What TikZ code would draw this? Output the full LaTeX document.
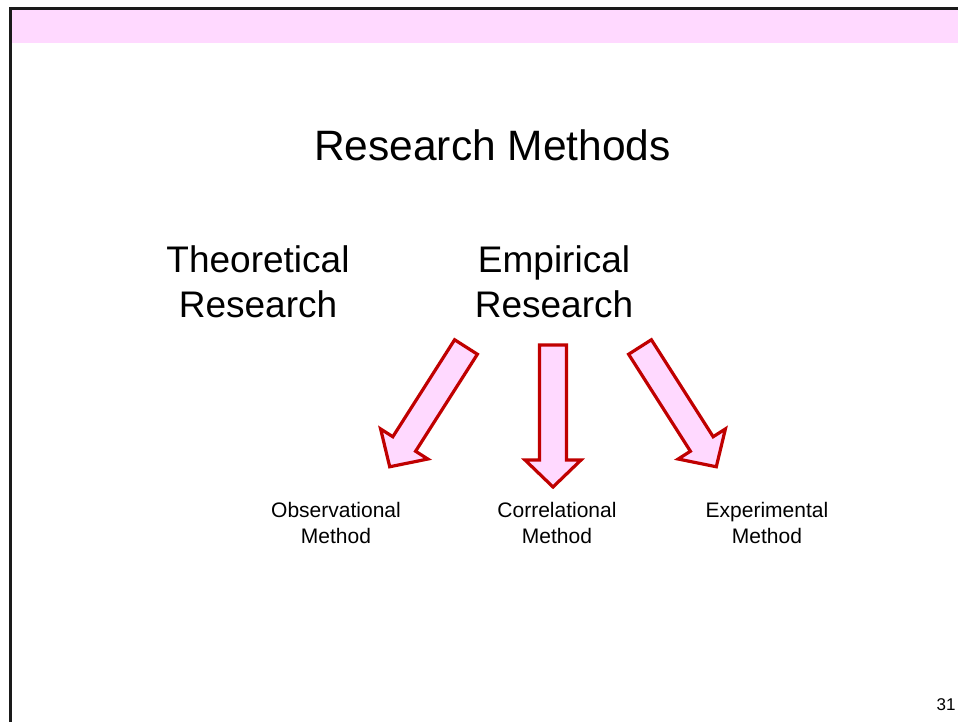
\documentclass[tikz,border=0pt]{standalone}
\usepackage{fontspec}
\setmainfont{Liberation Sans}
\definecolor{bandpink}{HTML}{FFD9FF}
\definecolor{arrowred}{HTML}{C00000}
\definecolor{frameblack}{HTML}{1A1A1A}
\tikzset{
  blockarrow/.style={draw=arrowred, fill=bandpink, line width=3.2pt, line join=miter},
  titletext/.style={inner sep=0pt, anchor=base, font=\fontsize{42.5}{50}\selectfont},
  bigtext/.style={inner sep=0pt, anchor=base, font=\fontsize{37}{45}\selectfont},
  smalltext/.style={inner sep=0pt, anchor=base, font=\fontsize{21}{25.7}\selectfont},
  pagenum/.style={inner sep=0pt, anchor=base, font=\fontsize{17}{20}\selectfont},
}
\begin{document}
\begin{tikzpicture}[x=1pt,y=1pt]
\useasboundingbox (0,0) rectangle (958,-722);
\fill[white] (0,0) rectangle (958,-722);
% header band and frame
\fill[bandpink] (12,-10) rectangle (958,-43);
\draw[frameblack, line width=3pt] (10.5,-722) -- (10.5,-8.5) -- (958,-8.5);
% title
\node[titletext] (title) at (492.5,-161) {Research Methods};
% top-level texts
\node[bigtext] (theo1) at (258,-272) {Theoretical};
\node[bigtext] (theo2) at (258,-317) {Research};
\node[bigtext] (emp1) at (554,-272) {Empirical};
\node[bigtext] (emp2) at (554,-317) {Research};
% method labels
\node[smalltext] (obs1) at (336,-517.7) {Observational};
\node[smalltext] (obs2) at (336,-543.3) {Method};
\node[smalltext] (cor1) at (557,-517.7) {Correlational};
\node[smalltext] (cor2) at (557,-543.3) {Method};
\node[smalltext] (exp1) at (767,-517.7) {Experimental};
\node[smalltext] (exp2) at (767,-543.3) {Method};
% block arrows
\foreach \px/\py/\ang in {466/347/237.5, 553/345/270, 640/347/302.5}{
  \draw[blockarrow, shift={(\px,-\py)}, rotate=\ang]
    (0,13.5) -- (115,13.5) -- (115,28) -- (142,0) -- (115,-28) -- (115,-13.5) -- (0,-13.5) -- cycle;
}
% page number
\node[pagenum] (num) at (946,-710) {31};
\end{tikzpicture}
\end{document}
